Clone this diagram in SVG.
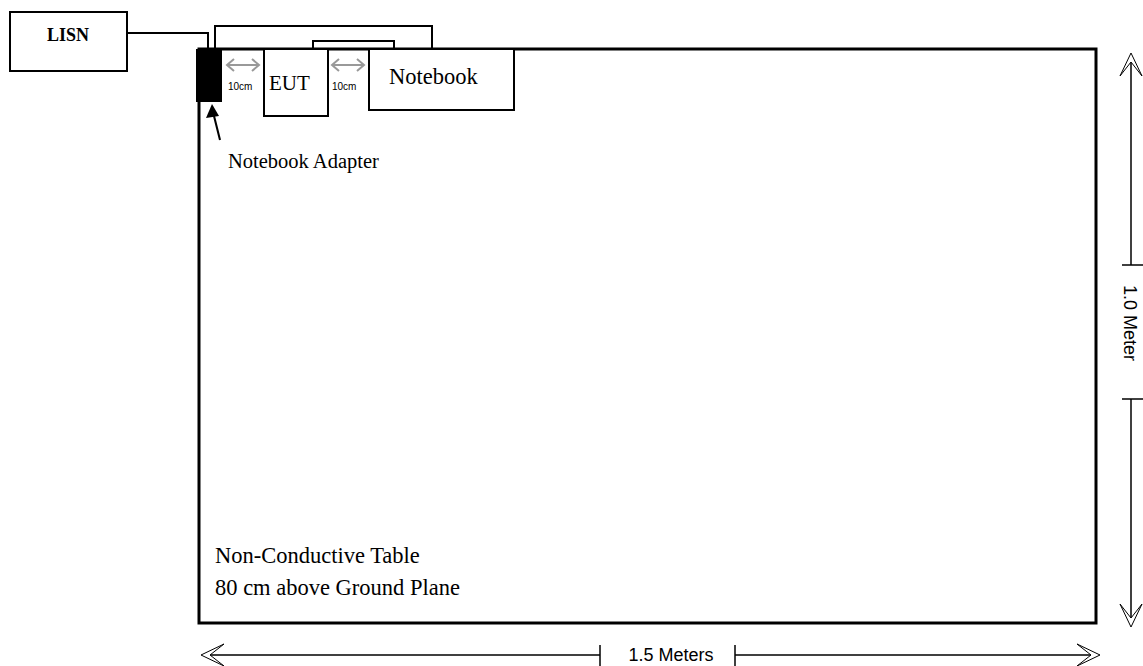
<svg xmlns="http://www.w3.org/2000/svg" width="1143" height="666" viewBox="0 0 1143 666">
<style>
.box{fill:#fff;stroke:#000;stroke-width:2}
.wire{fill:none;stroke:#000;stroke-width:2}
.serif{font-family:"Liberation Serif","Times New Roman",serif;fill:#000}
.sans{font-family:"Liberation Sans",Arial,sans-serif;fill:#000}
.dim{fill:none;stroke:#000;stroke-width:1.5}
.gray{fill:none;stroke:#999;stroke-width:2}
.head{fill:#fff;stroke:#000;stroke-width:1}
</style>
<rect width="1143" height="666" fill="#fff"/>
<g id="table">
<rect x="199" y="49" width="897" height="574" fill="#fff" stroke="#000" stroke-width="3"/>
<text class="serif" x="215" y="563" font-size="22.5">Non-Conductive Table</text>
<text class="serif" x="215" y="595" font-size="22.5">80 cm above Ground Plane</text>
</g>
<g id="connectors">
<polyline class="wire" points="127,33 208,33 208,49"/>
<polyline class="wire" points="215,49 215,26 432,26 432,49"/>
<polyline class="wire" points="313,49 313,41 394,41 394,49"/>
<line x1="220" y1="140" x2="213" y2="112" stroke="#000" stroke-width="2"/>
<polygon points="212,104 206,118 219,116" fill="#000"/>
</g>
<g id="lisn">
<rect class="box" x="10" y="12" width="117" height="59"/>
<text class="serif" x="68" y="41" font-size="18" font-weight="bold" text-anchor="middle">LISN</text>
</g>
<g id="adapter">
<rect x="196" y="49" width="26" height="53" fill="#000"/>
<text class="serif" x="228" y="168" font-size="20.5">Notebook Adapter</text>
</g>
<g id="eut">
<rect class="box" x="264" y="49" width="64" height="67"/>
<text class="serif" x="269" y="90" font-size="21">EUT</text>
</g>
<g id="notebook">
<rect class="box" x="369" y="49" width="145" height="61"/>
<text class="serif" x="389" y="84" font-size="22.5">Notebook</text>
</g>
<g id="spacing">
<line class="gray" x1="227" y1="65" x2="259" y2="65"/>
<polyline class="gray" points="234,59 227,65 234,71"/>
<polyline class="gray" points="252,59 259,65 252,71"/>
<text class="sans" x="228" y="90" font-size="10">10cm</text>
<line class="gray" x1="332" y1="65" x2="364" y2="65"/>
<polyline class="gray" points="339,59 332,65 339,71"/>
<polyline class="gray" points="357,59 364,65 357,71"/>
<text class="sans" x="332" y="90" font-size="10">10cm</text>
</g>
<g id="dim-width">
<line class="dim" x1="204" y1="655" x2="600" y2="655"/>
<line class="dim" x1="600" y1="645" x2="600" y2="666"/>
<line class="dim" x1="735" y1="645" x2="735" y2="666"/>
<line class="dim" x1="735" y1="655" x2="1096" y2="655"/>
<polygon class="head" points="201,655 224,644 210,655 224,666"/>
<polygon class="head" points="1100,655 1077,644 1091,655 1077,666"/>
<text class="sans" x="671" y="661" font-size="18" text-anchor="middle">1.5 Meters</text>
</g>
<g id="dim-height">
<line class="dim" x1="1131" y1="58" x2="1131" y2="265"/>
<line class="dim" x1="1122" y1="265" x2="1143" y2="265"/>
<line class="dim" x1="1122" y1="399" x2="1143" y2="399"/>
<line class="dim" x1="1131" y1="399" x2="1131" y2="620"/>
<polygon class="head" points="1131,53 1120,76 1131,62 1142,76"/>
<polygon class="head" points="1131,627 1120,604 1131,618 1142,604"/>
<text class="sans" font-size="18" text-anchor="middle" transform="translate(1124,323) rotate(90)">1.0 Meter</text>
</g>
</svg>
